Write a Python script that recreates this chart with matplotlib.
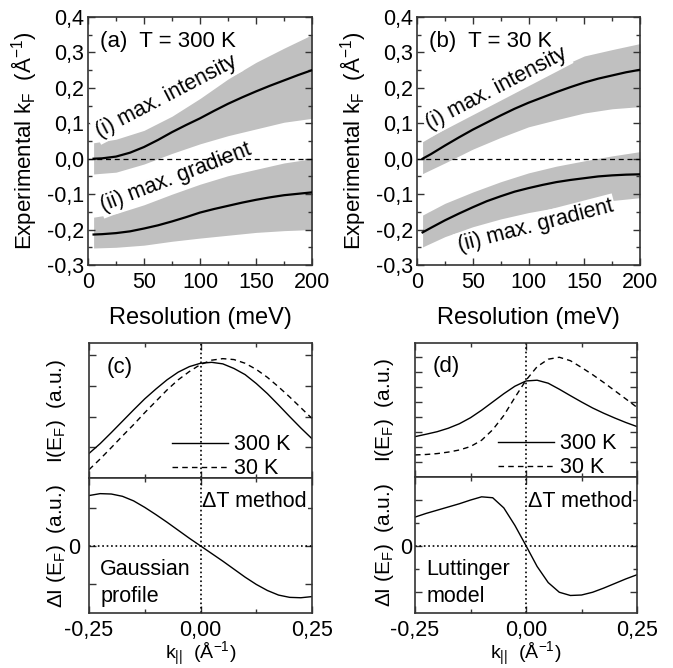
import numpy as np
import matplotlib.pyplot as plt
from matplotlib.ticker import MultipleLocator, FuncFormatter, NullFormatter

plt.rcParams['font.family'] = ['Liberation Sans', 'DejaVu Sans']
plt.rcParams['mathtext.fontset'] = 'custom'
plt.rcParams['mathtext.rm'] = 'Liberation Sans'
plt.rcParams['mathtext.it'] = 'Liberation Sans'

# resolution grids (meV)
res = [5, 25, 50, 75, 100, 125, 150, 175, 200]
res_line = [5, 12.5, 25, 37.5, 50, 62.5, 75, 87.5, 100, 112.5, 125, 137.5,
            150, 162.5, 175, 187.5, 200]

# panel (a), T = 300 K
a_int = [0.0, 0.001, 0.006, 0.017, 0.033, 0.053, 0.075, 0.095, 0.114, 0.135,
         0.155, 0.173, 0.19, 0.206, 0.221, 0.236, 0.25]
a_int_hi = [0.045, 0.055, 0.08, 0.12, 0.17, 0.225, 0.272, 0.312, 0.35]
a_int_lo = [-0.043, -0.038, -0.015, 0.015, 0.042, 0.065, 0.084, 0.103, 0.114]
a_grad = [-0.214, -0.213, -0.21, -0.205, -0.197, -0.188, -0.177, -0.165, -0.152,
          -0.142, -0.133, -0.124, -0.116, -0.109, -0.103, -0.099, -0.095]
a_grad_hi = [-0.165, -0.155, -0.13, -0.1, -0.072, -0.048, -0.03, -0.012, 0.0]
a_grad_lo = [-0.252, -0.25, -0.244, -0.233, -0.224, -0.216, -0.208, -0.203, -0.2]

# panel (b), T = 30 K
b_int = [0.0, 0.013, 0.037, 0.06, 0.082, 0.102, 0.122, 0.141, 0.158, 0.173,
         0.188, 0.202, 0.215, 0.226, 0.235, 0.244, 0.251]
b_int_hi = [0.048, 0.085, 0.13, 0.175, 0.215, 0.255, 0.29, 0.308, 0.325]
b_int_lo = [-0.042, -0.012, 0.027, 0.06, 0.09, 0.11, 0.129, 0.141, 0.147]
b_grad = [-0.208, -0.195, -0.174, -0.155, -0.137, -0.12, -0.106, -0.093, -0.083,
          -0.074, -0.066, -0.06, -0.055, -0.05, -0.047, -0.045, -0.044]
b_grad_hi = [-0.159, -0.126, -0.094, -0.065, -0.04, -0.021, -0.006, 0.008, 0.02]
b_grad_lo = [-0.249, -0.22, -0.192, -0.17, -0.152, -0.138, -0.128, -0.118, -0.11]

# k grid for lower panels
k = [-0.25, -0.225, -0.2, -0.175, -0.15, -0.125, -0.1, -0.075, -0.05, -0.025, 0.0,
     0.025, 0.05, 0.075, 0.1, 0.125, 0.15, 0.175, 0.2, 0.225, 0.25]

# (c) gaussian profile
c_300 = [0.80, 1.12, 1.48, 1.85, 2.22, 2.58, 2.90, 3.20, 3.45, 3.63, 3.74,
         3.77, 3.72, 3.57, 3.37, 3.08, 2.75, 2.38, 2.00, 1.63, 1.28]
c_30 = [0.27, 0.62, 0.99, 1.37, 1.74, 2.13, 2.50, 2.87, 3.20, 3.47, 3.70,
        3.84, 3.89, 3.86, 3.74, 3.54, 3.28, 2.97, 2.64, 2.29, 1.94]
c_diff = [1.32, 1.37, 1.36, 1.30, 1.18, 1.01, 0.82, 0.62, 0.41, 0.20, 0.0,
          -0.20, -0.40, -0.61, -0.82, -1.01, -1.17, -1.29, -1.35, -1.36, -1.33]

# (d) luttinger model
d_300 = [2.69, 2.85, 3.02, 3.25, 3.55, 3.95, 4.45, 5.0, 5.55, 6.05, 6.4,
         6.45, 6.25, 5.85, 5.42, 5.0, 4.6, 4.25, 3.93, 3.63, 3.36]
d_30 = [1.47, 1.5, 1.56, 1.66, 1.8, 2.03, 2.45, 3.15, 4.1, 5.3, 6.45,
        7.35, 7.85, 7.98, 7.75, 7.3, 6.82, 6.3, 5.75, 5.2, 4.64]
d_diff = [0.62, 0.70, 0.77, 0.84, 0.91, 0.99, 1.06, 1.04, 0.82, 0.44, 0.0,
          -0.45, -0.80, -1.01, -1.08, -1.07, -1.01, -0.92, -0.82, -0.72, -0.63]

FS = 15.5
BAND = '#c0c0c0'
SPINE = '#333333'


def comma(fmt):
    return FuncFormatter(lambda v, p: fmt.format(v).replace('.', ','))


def style(ax):
    for s in ax.spines.values():
        s.set_color(SPINE)
        s.set_linewidth(1.2)
    ax.tick_params(which='both', direction='in', top=True, right=True,
                   labelsize=FS, color=SPINE)
    ax.tick_params(which='major', length=5, width=1)
    ax.tick_params(which='minor', length=3, width=1)


fig = plt.figure(figsize=(6.73, 6.68), dpi=100)

W, H = 673.0, 668.0


def box(l, t, r, b):
    return [l / W, 1 - b / H, (r - l) / W, (b - t) / H]


top_panels = [
    (box(88, 17, 312, 265), '(a)  T = 300 K', a_int, a_int_hi, a_int_lo,
     a_grad, a_grad_hi, a_grad_lo,
     [(10.5, 0.060, 27.5), (14, -0.148, 21)]),
    (box(417, 17, 640, 265), '(b)  T = 30 K', b_int, b_int_hi, b_int_lo,
     b_grad, b_grad_hi, b_grad_lo,
     [(11.5, 0.082, 27.5), (38, -0.262, 14.5)]),
]

for rect, title, li, hi, lo, lg, ghi, glo, tpos in top_panels:
    ax = fig.add_axes(rect)
    ax.fill_between(res, lo, hi, color=BAND, lw=0, zorder=1)
    ax.fill_between(res, glo, ghi, color=BAND, lw=0, zorder=1)
    ax.axhline(0, color='black', lw=0.9, ls=(0, (4, 3)), zorder=5)
    ax.plot(res_line, li, color='black', lw=1.6, zorder=4)
    ax.plot(res_line, lg, color='black', lw=1.6, zorder=4)
    ax.set_xlim(0, 200)
    ax.set_ylim(-0.3, 0.4)
    ax.xaxis.set_major_locator(MultipleLocator(50))
    ax.xaxis.set_minor_locator(MultipleLocator(25))
    ax.yaxis.set_major_locator(MultipleLocator(0.1))
    ax.yaxis.set_minor_locator(MultipleLocator(0.05))
    ax.yaxis.set_major_formatter(comma('{:.1f}'))
    style(ax)
    ax.tick_params(axis='x', pad=5)
    ax.tick_params(axis='y', pad=3)
    ax.set_xlabel('Resolution (meV)', fontsize=17)
    ax.xaxis.set_label_coords(0.5, -0.17)
    ax.set_ylabel('Experimental k$_\\mathregular{F}$  (Å$^\\mathregular{-1}$)', fontsize=16)
    ax.yaxis.set_label_coords(-0.218, 0.5)
    ax.text(10.7, 0.316, title, fontsize=16, va='baseline')
    for (tx, ty, rot), lab in zip(tpos, ['(i) max. intensity', '(ii) max. gradient']):
        ax.text(tx, ty, lab, fontsize=FS, rotation=rot, rotation_mode='anchor',
                ha='left', va='baseline', zorder=3,
                bbox=dict(facecolor='white', edgecolor='none', pad=1.5))

bottom_panels = [
    (89, 312, 343, 478, 613, '(c)', c_300, c_30, c_diff, 4.4, 1.78, 1.76, 1.0, None,
     ['Gaussian', 'profile'], 1.02, -0.225, 68),
    (415, 637, 343, 477, 613, '(d)', d_300, d_30, d_diff, 8.93, 1.49, 1.46, 1.0, 0.5,
     ['Luttinger', 'model'], 0.85, -0.224, 396),
]

for (l, r, t, m, b, lab, i300, i30, di, itop, dtop, dbot, dmaj, dmin,
     words, dtY, wx, ylx) in bottom_panels:
    ax1 = fig.add_axes(box(l, t, r, m))
    ax2 = fig.add_axes(box(l, m, r, b), sharex=ax1)
    h1, = ax1.plot(k, i300, color='black', lw=1.0, label='300 K')
    h2, = ax1.plot(k, i30, color='black', lw=1.0, ls=(0, (4, 3)), label='30 K')
    ax1.axvline(0, color='black', lw=1.2, ls=':')
    ax1.set_xlim(-0.25, 0.25)
    ax1.set_ylim(0, itop)
    ax1.yaxis.set_major_locator(MultipleLocator(1))
    ax1.yaxis.set_major_formatter(NullFormatter())
    ax1.xaxis.set_major_locator(MultipleLocator(0.25))
    ax1.xaxis.set_minor_locator(MultipleLocator(0.125))
    style(ax1)
    ax1.tick_params(labelbottom=False)
    ax1.text(18 / (r - l), 0.78, lab, transform=ax1.transAxes,
             fontsize=16, va='baseline')
    ax1.legend(handles=[h1, h2], loc='lower left', bbox_to_anchor=(0.372, -0.01),
               frameon=False, fontsize=FS, handlelength=2.6, handletextpad=0.3,
               labelspacing=0.15, borderpad=0, borderaxespad=0)
    ax1.set_ylabel('I(E$_\\mathregular{F}$)  (a.u.)', fontsize=15)
    ax1.yaxis.set_label_coords((ylx - l) / (r - l), 0.5)

    ax2.plot(k, di, color='black', lw=1.0)
    ax2.axvline(0, color='black', lw=1.2, ls=':')
    ax2.axhline(0, color='black', lw=1.2, ls=':')
    ax2.set_ylim(-dbot, dtop)
    ax2.set_yticks([-dmaj, 0, dmaj])
    ax2.set_yticklabels(['', '0', ''])
    if dmin:
        ax2.yaxis.set_minor_locator(MultipleLocator(dmin))
    ax2.xaxis.set_major_formatter(comma('{:.2f}'))
    style(ax2)
    ax2.tick_params(axis='x', pad=5)
    ax2.tick_params(axis='y', pad=6 if lab == '(c)' else 2)
    ax2.text(0.004, dtY, 'ΔT method', fontsize=FS, va='baseline', zorder=3,
             bbox=dict(facecolor='white', edgecolor='none', pad=0.5))
    ax2.text(wx, -dbot * 0.436, words[0], fontsize=FS, va='baseline')
    ax2.text(wx, -dbot * 0.83, words[1], fontsize=FS, va='baseline')
    ax2.set_xlabel('k$_{||}$  (Å$^\\mathregular{-1}$)', fontsize=14)
    ax2.xaxis.set_label_coords(0.5, -0.2)
    ax2.set_ylabel('ΔI (E$_\\mathregular{F}$)  (a.u.)', fontsize=15)
    ax2.yaxis.set_label_coords((ylx - l) / (r - l), 0.5)

fig.savefig('out.png', dpi=100)
